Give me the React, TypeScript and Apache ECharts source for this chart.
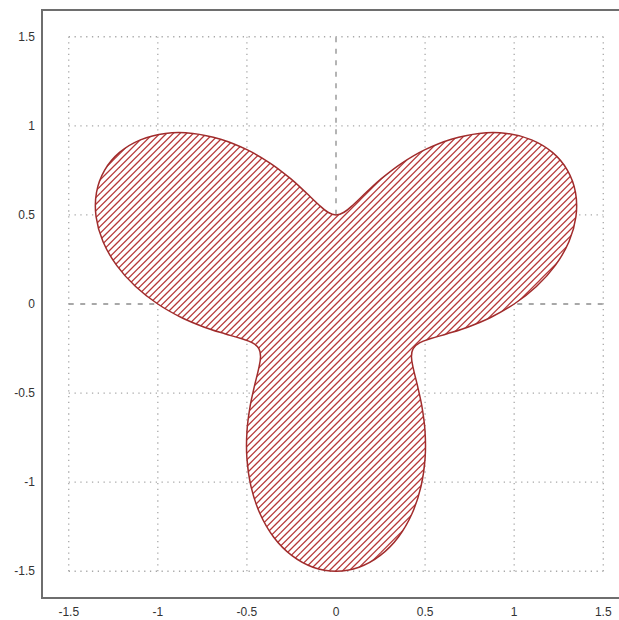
import React, { useEffect, useRef } from "react";
import * as echarts from "echarts";

// Polar outline of the shape: angle (degrees) and radius
const angleDeg = [
  0, 5, 10, 15, 20, 25, 30, 35, 40, 45, 50, 55,
  60, 65, 70, 75, 80, 85, 90, 95, 100, 105, 110, 115,
  120, 125, 130, 135, 140, 145, 150, 155, 160, 165, 170, 175,
  180, 185, 190, 195, 200, 205, 210, 215, 220, 225, 230, 235,
  240, 245, 250, 255, 260, 265, 270, 275, 280, 285, 290, 295,
  300, 305, 310, 315, 320, 325, 330, 335, 340, 345, 350, 355,
];
const radius = [
  1.0, 1.129, 1.25, 1.354, 1.433, 1.483, 1.5, 1.483, 1.433, 1.354, 1.25, 1.129,
  1.0, 0.871, 0.75, 0.646, 0.567, 0.517, 0.5, 0.517, 0.567, 0.646, 0.75, 0.871,
  1.0, 1.129, 1.25, 1.354, 1.433, 1.483, 1.5, 1.483, 1.433, 1.354, 1.25, 1.129,
  1.0, 0.871, 0.75, 0.646, 0.567, 0.517, 0.5, 0.517, 0.567, 0.646, 0.75, 0.871,
  1.0, 1.129, 1.25, 1.354, 1.433, 1.483, 1.5, 1.483, 1.433, 1.354, 1.25, 1.129,
  1.0, 0.871, 0.75, 0.646, 0.567, 0.517, 0.5, 0.517, 0.567, 0.646, 0.75, 0.871,
];

const tickValues = [-1.5, -1, -0.5, 0, 0.5, 1, 1.5];
const tickLabels = ["-1.5", "-1", "-0.5", "0", "0.5", "1", "1.5"];
const gridExtent = [-1.5, 1.5];
const axisRange = [-1.65, 1.65];

const FONT = "'Liberation Sans', Arial, sans-serif";

function makeHatch(): HTMLCanvasElement {
  const size = 20;
  const c = document.createElement("canvas");
  c.width = size;
  c.height = size;
  const ctx = c.getContext("2d")!;
  ctx.fillStyle = "#ffffff";
  ctx.fillRect(0, 0, size, size);
  ctx.strokeStyle = "#b63838";
  ctx.lineWidth = 1.25;
  const step = size / 3;
  for (let k = -3; k <= 7; k++) {
    const cc = k * step;
    ctx.beginPath();
    ctx.moveTo(cc + 10, -10);
    ctx.lineTo(cc - 30, 30);
    ctx.stroke();
  }
  return c;
}

export default function App() {
  const ref = useRef<HTMLDivElement>(null);

  useEffect(() => {
    if (!ref.current) return;
    const chart = echarts.init(ref.current, null, { renderer: "svg" });

    const curvePoints = angleDeg.map((a, i) => {
      const t = (a * Math.PI) / 180;
      return [radius[i] * Math.cos(t), radius[i] * Math.sin(t)];
    });

    const hatch = makeHatch();

    const dotted = { color: "#a8a8a8", width: 1.3, type: [1.3, 4.5] };
    const dashed = { color: "#8c8c8c", width: 1.3, type: [5, 6.5] };

    const series: any[] = [];
    tickValues.forEach((v) => {
      if (v === 0) return;
      series.push({
        type: "line",
        data: [
          [v, gridExtent[0]],
          [v, gridExtent[1]],
        ],
        symbol: "none",
        silent: true,
        z: 1,
        lineStyle: dotted,
      });
      series.push({
        type: "line",
        data: [
          [gridExtent[0], v],
          [gridExtent[1], v],
        ],
        symbol: "none",
        silent: true,
        z: 1,
        lineStyle: dotted,
      });
    });
    // zero lines (dashed)
    series.push({
      type: "line",
      data: [
        [0, gridExtent[0]],
        [0, gridExtent[1]],
      ],
      symbol: "none",
      silent: true,
      z: 1,
      lineStyle: dashed,
    });
    series.push({
      type: "line",
      data: [
        [gridExtent[0], 0],
        [gridExtent[1], 0],
      ],
      symbol: "none",
      silent: true,
      z: 1,
      lineStyle: dashed,
    });

    series.push({
      type: "custom",
      data: curvePoints,
      clip: false,
      silent: true,
      z: 5,
      renderItem: (params: any, api: any) => {
        if (params.dataIndex !== 0) return null;
        const pts = curvePoints.map((p) => api.coord(p));
        return {
          type: "group",
          children: [
            {
              type: "polygon",
              shape: { points: pts, smooth: 0.35 },
              style: { fill: "#ffffff", stroke: "none" },
              z2: 1,
            },
            {
              type: "polygon",
              shape: { points: pts, smooth: 0.35 },
              style: {
                fill: { image: hatch, repeat: "repeat" },
                stroke: "#a02c2c",
                lineWidth: 1.5,
              },
              z2: 2,
            },
          ],
        };
      },
    });

    const labelFmt = (v: number) => {
      const i = tickValues.findIndex((t) => Math.abs(t - v) < 1e-9);
      return i >= 0 ? tickLabels[i] : "";
    };

    chart.setOption({
      animation: false,
      grid: {
        left: 42,
        top: 10,
        width: 588,
        height: 588,
        outerBoundsMode: "none",
        containLabel: false,
        show: true,
        borderColor: "#6e6e6e",
        borderWidth: 2,
        backgroundColor: "transparent",
      },
      xAxis: {
        type: "value",
        min: axisRange[0],
        max: axisRange[1],
        axisLine: { show: false },
        axisTick: { show: false },
        splitLine: { show: false },
        axisLabel: {
          customValues: tickValues,
          formatter: labelFmt,
          color: "#333",
          fontSize: 12,
          fontFamily: FONT,
          margin: 8,
        },
      },
      yAxis: {
        type: "value",
        min: axisRange[0],
        max: axisRange[1],
        axisLine: { show: false },
        axisTick: { show: false },
        splitLine: { show: false },
        axisLabel: {
          customValues: tickValues,
          formatter: labelFmt,
          color: "#333",
          fontSize: 12,
          fontFamily: FONT,
          margin: 7,
        },
      },
      series,
    });

    return () => chart.dispose();
  }, []);

  return (
    <div
      ref={ref}
      style={{ position: "absolute", left: 0, top: 0, width: 619, height: 620 }}
    />
  );
}
